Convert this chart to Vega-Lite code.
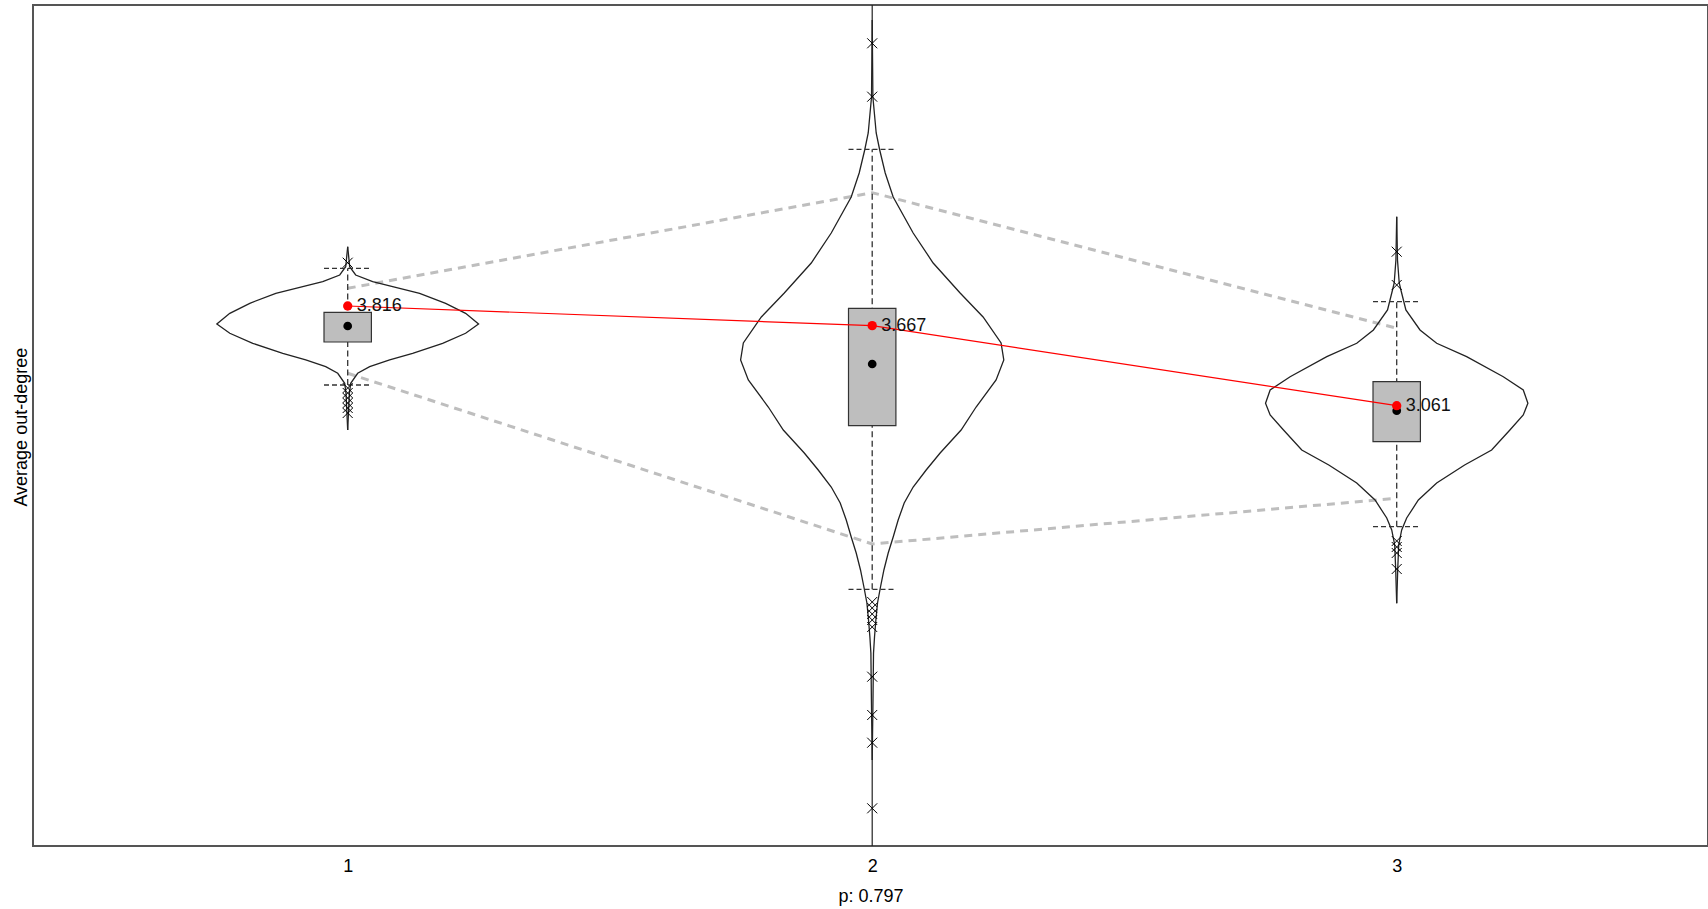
{
  "$schema": "https://vega.github.io/schema/vega-lite/v6.json",
  "width": 1675,
  "height": 841,
  "autosize": {"type": "none"},
  "padding": {"left": 33, "top": 5, "right": 0, "bottom": 63},
  "background": "white",
  "config": {
    "font": "Liberation Sans",
    "view": {"stroke": "#555555", "strokeWidth": 2},
    "axis": {"grid": false, "ticks": false, "domain": false, "labelFont": "Liberation Sans", "titleFont": "Liberation Sans", "labelFontSize": 18, "titleFontSize": 18, "titleFontWeight": "normal", "labelColor": "#000000", "titleColor": "#000000"}
  },
  "datasets": {
    "violin": [
      {"s": "1R", "y": 4.2651, "x": 1}, {"s": "1R", "y": 4.1136, "x": 1.0038}, {"s": "1R", "y": 4.0508, "x": 1.0152}, {"s": "1R", "y": 4.0, "x": 1.0476}, {"s": "1R", "y": 3.9622, "x": 1.0857}, {"s": "1R", "y": 3.9122, "x": 1.1371}, {"s": "1R", "y": 3.8364, "x": 1.1867}, {"s": "1R", "y": 3.7607, "x": 1.2248}, {"s": "1R", "y": 3.6797, "x": 1.2495}, {"s": "1R", "y": 3.6093, "x": 1.2248}, {"s": "1R", "y": 3.5335, "x": 1.181}, {"s": "1R", "y": 3.4578, "x": 1.1238}, {"s": "1R", "y": 3.4071, "x": 1.08}, {"s": "1R", "y": 3.3563, "x": 1.0419}, {"s": "1R", "y": 3.3063, "x": 1.019}, {"s": "1R", "y": 3.2306, "x": 1.0057}, {"s": "1R", "y": 3.1549, "x": 1.0032}, {"s": "1R", "y": 2.877, "x": 1},
      {"s": "1L", "y": 4.2651, "x": 1}, {"s": "1L", "y": 4.1136, "x": 0.9962}, {"s": "1L", "y": 4.0508, "x": 0.9848}, {"s": "1L", "y": 4.0, "x": 0.9524}, {"s": "1L", "y": 3.9622, "x": 0.9143}, {"s": "1L", "y": 3.9122, "x": 0.8629}, {"s": "1L", "y": 3.8364, "x": 0.8133}, {"s": "1L", "y": 3.7607, "x": 0.7752}, {"s": "1L", "y": 3.6797, "x": 0.7505}, {"s": "1L", "y": 3.6093, "x": 0.7752}, {"s": "1L", "y": 3.5335, "x": 0.819}, {"s": "1L", "y": 3.4578, "x": 0.8762}, {"s": "1L", "y": 3.4071, "x": 0.92}, {"s": "1L", "y": 3.3563, "x": 0.9581}, {"s": "1L", "y": 3.3063, "x": 0.981}, {"s": "1L", "y": 3.2306, "x": 0.9943}, {"s": "1L", "y": 3.1549, "x": 0.9968}, {"s": "1L", "y": 2.877, "x": 1},
      {"s": "2R", "y": 5.9818, "x": 2}, {"s": "2R", "y": 5.3987, "x": 2.0013}, {"s": "2R", "y": 5.1261, "x": 2.0076}, {"s": "2R", "y": 4.9974, "x": 2.0143}, {"s": "2R", "y": 4.8232, "x": 2.0248}, {"s": "2R", "y": 4.6414, "x": 2.04}, {"s": "2R", "y": 4.3688, "x": 2.0781}, {"s": "2R", "y": 4.1416, "x": 2.1162}, {"s": "2R", "y": 3.9144, "x": 2.1676}, {"s": "2R", "y": 3.7327, "x": 2.2114}, {"s": "2R", "y": 3.5358, "x": 2.2457}, {"s": "2R", "y": 3.4071, "x": 2.2509}, {"s": "2R", "y": 3.2556, "x": 2.2362}, {"s": "2R", "y": 3.0511, "x": 2.1981}, {"s": "2R", "y": 2.877, "x": 2.1695}, {"s": "2R", "y": 2.7028, "x": 2.1295}, {"s": "2R", "y": 2.574, "x": 2.1029}, {"s": "2R", "y": 2.4453, "x": 2.0781}, {"s": "2R", "y": 2.3241, "x": 2.061}, {"s": "2R", "y": 2.1954, "x": 2.0495}, {"s": "2R", "y": 2.0667, "x": 2.04}, {"s": "2R", "y": 1.9455, "x": 2.0305}, {"s": "2R", "y": 1.8168, "x": 2.0223}, {"s": "2R", "y": 1.688, "x": 2.0158}, {"s": "2R", "y": 1.5668, "x": 2.0101}, {"s": "2R", "y": 1.4381, "x": 2.007}, {"s": "2R", "y": 1.3094, "x": 2.0044}, {"s": "2R", "y": 1.1882, "x": 2.0025}, {"s": "2R", "y": 0.8323, "x": 2.0015}, {"s": "2R", "y": 0.3779, "x": 2},
      {"s": "2L", "y": 5.9818, "x": 2}, {"s": "2L", "y": 5.3987, "x": 1.9987}, {"s": "2L", "y": 5.1261, "x": 1.9924}, {"s": "2L", "y": 4.9974, "x": 1.9857}, {"s": "2L", "y": 4.8232, "x": 1.9752}, {"s": "2L", "y": 4.6414, "x": 1.96}, {"s": "2L", "y": 4.3688, "x": 1.9219}, {"s": "2L", "y": 4.1416, "x": 1.8838}, {"s": "2L", "y": 3.9144, "x": 1.8324}, {"s": "2L", "y": 3.7327, "x": 1.7886}, {"s": "2L", "y": 3.5358, "x": 1.7543}, {"s": "2L", "y": 3.4071, "x": 1.7491}, {"s": "2L", "y": 3.2556, "x": 1.7638}, {"s": "2L", "y": 3.0511, "x": 1.8019}, {"s": "2L", "y": 2.877, "x": 1.8305}, {"s": "2L", "y": 2.7028, "x": 1.8705}, {"s": "2L", "y": 2.574, "x": 1.8971}, {"s": "2L", "y": 2.4453, "x": 1.9219}, {"s": "2L", "y": 2.3241, "x": 1.939}, {"s": "2L", "y": 2.1954, "x": 1.9505}, {"s": "2L", "y": 2.0667, "x": 1.96}, {"s": "2L", "y": 1.9455, "x": 1.9695}, {"s": "2L", "y": 1.8168, "x": 1.9777}, {"s": "2L", "y": 1.688, "x": 1.9842}, {"s": "2L", "y": 1.5668, "x": 1.9899}, {"s": "2L", "y": 1.4381, "x": 1.993}, {"s": "2L", "y": 1.3094, "x": 1.9956}, {"s": "2L", "y": 1.1882, "x": 1.9975}, {"s": "2L", "y": 0.8323, "x": 1.9985}, {"s": "2L", "y": 0.3779, "x": 2},
      {"s": "3R", "y": 4.4923, "x": 3}, {"s": "3R", "y": 4.1644, "x": 3.0015}, {"s": "3R", "y": 3.9902, "x": 3.0048}, {"s": "3R", "y": 3.9372, "x": 3.008}, {"s": "3R", "y": 3.7857, "x": 3.0175}, {"s": "3R", "y": 3.6343, "x": 3.0444}, {"s": "3R", "y": 3.5335, "x": 3.0762}, {"s": "3R", "y": 3.4321, "x": 3.1333}, {"s": "3R", "y": 3.2806, "x": 3.2032}, {"s": "3R", "y": 3.1799, "x": 3.2413}, {"s": "3R", "y": 3.0792, "x": 3.2501}, {"s": "3R", "y": 2.9906, "x": 3.2413}, {"s": "3R", "y": 2.877, "x": 3.2158}, {"s": "3R", "y": 2.7255, "x": 3.181}, {"s": "3R", "y": 2.6119, "x": 3.1295}, {"s": "3R", "y": 2.4756, "x": 3.0762}, {"s": "3R", "y": 2.3469, "x": 3.0413}, {"s": "3R", "y": 2.2105, "x": 3.019}, {"s": "3R", "y": 2.1197, "x": 3.0095}, {"s": "3R", "y": 2.0061, "x": 3.0038}, {"s": "3R", "y": 1.8168, "x": 3.0019}, {"s": "3R", "y": 1.5646, "x": 3},
      {"s": "3L", "y": 4.4923, "x": 3}, {"s": "3L", "y": 4.1644, "x": 2.9985}, {"s": "3L", "y": 3.9902, "x": 2.9952}, {"s": "3L", "y": 3.9372, "x": 2.992}, {"s": "3L", "y": 3.7857, "x": 2.9825}, {"s": "3L", "y": 3.6343, "x": 2.9556}, {"s": "3L", "y": 3.5335, "x": 2.9238}, {"s": "3L", "y": 3.4321, "x": 2.8667}, {"s": "3L", "y": 3.2806, "x": 2.7968}, {"s": "3L", "y": 3.1799, "x": 2.7587}, {"s": "3L", "y": 3.0792, "x": 2.7499}, {"s": "3L", "y": 2.9906, "x": 2.7587}, {"s": "3L", "y": 2.877, "x": 2.7842}, {"s": "3L", "y": 2.7255, "x": 2.819}, {"s": "3L", "y": 2.6119, "x": 2.8705}, {"s": "3L", "y": 2.4756, "x": 2.9238}, {"s": "3L", "y": 2.3469, "x": 2.9587}, {"s": "3L", "y": 2.2105, "x": 2.981}, {"s": "3L", "y": 2.1197, "x": 2.9905}, {"s": "3L", "y": 2.0061, "x": 2.9962}, {"s": "3L", "y": 1.8168, "x": 2.9981}, {"s": "3L", "y": 1.5646, "x": 3}
    ],
    "tails": [
      {"g": 2, "a": 5.9818, "b": 6.5},
      {"g": 2, "a": 0.3779, "b": -0.8}
    ],
    "stats": [
      {"g": 1, "q1": 3.5434, "q3": 3.7683, "lo": 3.2177, "hi": 4.1015, "med": 3.6645, "mean": 3.816, "label": "3.816"},
      {"g": 2, "q1": 2.9095, "q3": 3.7986, "lo": 1.6706, "hi": 5.0027, "med": 3.3768, "mean": 3.667, "label": "3.667"},
      {"g": 3, "q1": 2.7884, "q3": 3.2427, "lo": 2.1447, "hi": 3.8486, "med": 3.0231, "mean": 3.061, "label": "3.061"}
    ],
    "outliers": [
      {"g": 1, "v": 4.1439}, {"g": 1, "v": 3.195}, {"g": 1, "v": 3.1572}, {"g": 1, "v": 3.1193}, {"g": 1, "v": 3.0814}, {"g": 1, "v": 3.0436}, {"g": 1, "v": 3.0057},
      {"g": 2, "v": 5.8054}, {"g": 2, "v": 5.401}, {"g": 2, "v": 1.5744}, {"g": 2, "v": 1.529}, {"g": 2, "v": 1.4835}, {"g": 2, "v": 1.4381}, {"g": 2, "v": 1.3851}, {"g": 2, "v": 1.0087}, {"g": 2, "v": 0.7187}, {"g": 2, "v": 0.5089}, {"g": 2, "v": 0.0121},
      {"g": 3, "v": 4.2272}, {"g": 3, "v": 3.975}, {"g": 3, "v": 2.0364}, {"g": 3, "v": 1.9909}, {"g": 3, "v": 1.9455}, {"g": 3, "v": 1.8243}
    ],
    "bands": [
      {"band": "upper", "g": 1, "v": 3.95}, {"band": "upper", "g": 2, "v": 4.674}, {"band": "upper", "g": 3, "v": 3.6471},
      {"band": "lower", "g": 1, "v": 3.3063}, {"band": "lower", "g": 2, "v": 2.0136}, {"band": "lower", "g": 3, "v": 2.3597}
    ]
  },
  "layer": [
    {
      "data": {"name": "bands"},
      "mark": {"type": "line", "stroke": "#BEBEBE", "strokeWidth": 3, "strokeDash": [8, 6]},
      "encoding": {
        "x": {"field": "g", "type": "quantitative", "title": "p: 0.797", "scale": {"domain": [0.4, 3.5935], "nice": false, "zero": false},
              "axis": {"values": [1, 2, 3], "format": "d", "labelPadding": 11, "labelFlush": false, "labelOverlap": false, "titleY": 55, "titleBaseline": "alphabetic"}},
        "y": {"field": "v", "type": "quantitative", "title": "Average out-degree", "scale": {"domain": [-0.2734, 6.0954], "nice": false, "zero": false},
              "axis": {"labels": false, "titleX": -6.8, "titleY": 421.7, "titleAngle": 270, "titleAlign": "center", "titleBaseline": "alphabetic"}},
        "detail": {"field": "band"}
      }
    },
    {
      "data": {"name": "violin"},
      "mark": {"type": "line", "stroke": "#222222", "strokeWidth": 1.3, "clip": true},
      "encoding": {
        "x": {"field": "x", "type": "quantitative", "title": "p: 0.797"},
        "y": {"field": "y", "type": "quantitative", "title": "Average out-degree"},
        "detail": {"field": "s"},
        "order": {"field": "y", "type": "quantitative"}
      }
    },
    {
      "data": {"name": "tails"},
      "mark": {"type": "rule", "stroke": "#222222", "strokeWidth": 1.2, "clip": true},
      "encoding": {
        "x": {"field": "g", "type": "quantitative", "title": "p: 0.797"},
        "y": {"field": "a", "type": "quantitative", "title": "Average out-degree"},
        "y2": {"field": "b"}
      }
    },
    {
      "data": {"name": "stats"},
      "mark": {"type": "rule", "stroke": "#333333", "strokeWidth": 1.3, "strokeDash": [6, 3.5]},
      "encoding": {
        "x": {"field": "g", "type": "quantitative", "title": "p: 0.797"},
        "y": {"field": "lo", "type": "quantitative", "title": "Average out-degree"},
        "y2": {"field": "hi"}
      }
    },
    {
      "data": {"name": "stats"},
      "mark": {"type": "rule", "stroke": "#333333", "strokeWidth": 1.3, "strokeDash": [5, 3], "xOffset": -23.7, "x2Offset": 23.7},
      "encoding": {
        "x": {"field": "g", "type": "quantitative", "title": "p: 0.797"},
        "x2": {"field": "g"},
        "y": {"field": "lo", "type": "quantitative", "title": "Average out-degree"}
      }
    },
    {
      "data": {"name": "stats"},
      "mark": {"type": "rule", "stroke": "#333333", "strokeWidth": 1.3, "strokeDash": [5, 3], "xOffset": -23.7, "x2Offset": 23.7},
      "encoding": {
        "x": {"field": "g", "type": "quantitative", "title": "p: 0.797"},
        "x2": {"field": "g"},
        "y": {"field": "hi", "type": "quantitative", "title": "Average out-degree"}
      }
    },
    {
      "data": {"name": "stats"},
      "mark": {"type": "rect", "fill": "#BEBEBE", "stroke": "#333333", "strokeWidth": 1.2, "xOffset": -23.7, "x2Offset": 23.7},
      "encoding": {
        "x": {"field": "g", "type": "quantitative", "title": "p: 0.797"},
        "x2": {"field": "g"},
        "y": {"field": "q1", "type": "quantitative", "title": "Average out-degree"},
        "y2": {"field": "q3"}
      }
    },
    {
      "data": {"name": "stats"},
      "mark": {"type": "point", "shape": "circle", "filled": true, "size": 76, "color": "#000000", "opacity": 1},
      "encoding": {
        "x": {"field": "g", "type": "quantitative", "title": "p: 0.797"},
        "y": {"field": "med", "type": "quantitative", "title": "Average out-degree"}
      }
    },
    {
      "data": {"name": "outliers"},
      "mark": {"type": "point", "shape": "M-1,-1L1,1M-1,1L1,-1", "filled": false, "size": 100, "stroke": "#000000", "strokeWidth": 1, "opacity": 1},
      "encoding": {
        "x": {"field": "g", "type": "quantitative", "title": "p: 0.797"},
        "y": {"field": "v", "type": "quantitative", "title": "Average out-degree"}
      }
    },
    {
      "data": {"name": "stats"},
      "mark": {"type": "line", "stroke": "#FF0000", "strokeWidth": 1.2},
      "encoding": {
        "x": {"field": "g", "type": "quantitative", "title": "p: 0.797"},
        "y": {"field": "mean", "type": "quantitative", "title": "Average out-degree"}
      }
    },
    {
      "data": {"name": "stats"},
      "mark": {"type": "point", "shape": "circle", "filled": true, "size": 87, "color": "#FF0000", "opacity": 1},
      "encoding": {
        "x": {"field": "g", "type": "quantitative", "title": "p: 0.797"},
        "y": {"field": "mean", "type": "quantitative", "title": "Average out-degree"}
      }
    },
    {
      "data": {"name": "stats"},
      "mark": {"type": "text", "align": "left", "baseline": "middle", "dx": 9, "fontSize": 18, "color": "#111111", "font": "Liberation Sans"},
      "encoding": {
        "x": {"field": "g", "type": "quantitative", "title": "p: 0.797"},
        "y": {"field": "mean", "type": "quantitative", "title": "Average out-degree"},
        "text": {"field": "label"}
      }
    }
  ]
}
